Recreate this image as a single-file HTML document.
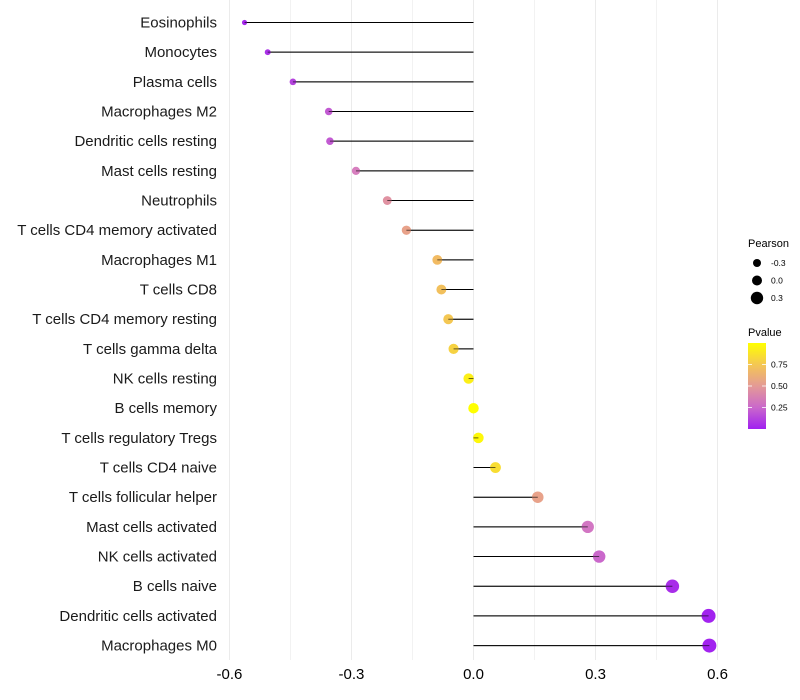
<!DOCTYPE html>
<html><head><meta charset="utf-8"><style>
body{margin:0;background:#fff;}
svg{display:block;font-family:"Liberation Sans",sans-serif;}
</style></head><body>
<svg id="chart" width="800" height="700">
<g id="grid"></g>
<g id="marks"></g>
<g id="ylabels"></g>
<g id="xlabels"></g>
<g id="legend"></g>
</svg>
<script>
const categories=["Eosinophils","Monocytes","Plasma cells","Macrophages M2","Dendritic cells resting","Mast cells resting","Neutrophils","T cells CD4 memory activated","Macrophages M1","T cells CD8","T cells CD4 memory resting","T cells gamma delta","NK cells resting","B cells memory","T cells regulatory  Tregs ","T cells CD4 naive","T cells follicular helper","Mast cells activated","NK cells activated","B cells naive","Dendritic cells activated","Macrophages M0"];
const pearson=[-0.563,-0.506,-0.444,-0.356,-0.353,-0.289,-0.212,-0.165,-0.089,-0.079,-0.062,-0.049,-0.012,0.0,0.012,0.054,0.158,0.281,0.309,0.489,0.578,0.580];
const pvalue=[0.03,0.06,0.12,0.2,0.2,0.33,0.45,0.55,0.7,0.72,0.75,0.8,0.93,1.0,0.97,0.85,0.55,0.3,0.25,0.05,0.01,0.01];
const xTicks=[-0.6,-0.3,0.0,0.3,0.6];
const xTickLabels=["-0.6","-0.3","0.0","0.3","0.6"];
const sizeLegend=[-0.3,0.0,0.3];
const colorTicks=[0.25,0.5,0.75];
const NS="http://www.w3.org/2000/svg";
const x=v=>473.5+v*406.7;
const y=i=>22.5+i*29.67;
const rad=v=>Math.sqrt(Math.max(2,27.5+37*v));
function lerp(a,b,t){return a.map((c,i)=>Math.round(c+(b[i]-c)*t));}
function col(p){const s=[[160,32,240],[216,128,190],[240,180,110],[255,255,0]];const t=Math.max(0,Math.min(1,p))*3;const i=Math.min(2,Math.floor(t));const c=lerp(s[i],s[i+1],t-i);return `rgb(${c})`;}
function el(tag,attrs,parent){const e=document.createElementNS(NS,tag);for(const k in attrs)e.setAttribute(k,attrs[k]);parent.appendChild(e);return e;}
const grid=document.getElementById('grid');
xTicks.forEach((t,i)=>{
 const l=el('line',{x1:x(t),x2:x(t),y1:0,y2:660,stroke:'#ebebeb','stroke-width':1},grid);
 
 
 if(i<xTicks.length-1){const m=(t+xTicks[i+1])/2;const l2=el('line',{x1:x(m),x2:x(m),y1:0,y2:660,stroke:'#f2f2f2','stroke-width':1},grid);
 
 }
 const tx=el('text',{x:x(t),y:679,'font-size':15,'text-anchor':'middle',fill:'#000'},document.getElementById('xlabels'));
 tx.textContent=xTickLabels[i];
 
 
});
const marks=document.getElementById('marks');
categories.forEach((c,i)=>{
 const ln=el('line',{x1:x(0),x2:x(pearson[i]),y1:y(i),y2:y(i),stroke:'#000','stroke-width':1},marks);
 
 
 const ci=el('circle',{cx:x(pearson[i]),cy:y(i),r:rad(pearson[i]),fill:col(pvalue[i])},marks);
 
 
 const ln2=el('line',{x1:x(0),x2:x(pearson[i]),y1:y(i),y2:y(i),stroke:'#000','stroke-width':1,'stroke-opacity':0.6},marks);
 
 
 const t=el('text',{x:217,y:y(i)+5,'font-size':15,'text-anchor':'end',fill:'#1a1a1a'},document.getElementById('ylabels'));
 t.textContent=c;
 
 
});
const lg=document.getElementById('legend');
const t1=el('text',{x:748,y:247,'font-size':11,fill:'#000'},lg);t1.textContent='Pearson';


sizeLegend.forEach((v,i)=>{
 const cy=263+i*17.5;
 const c=el('circle',{cx:757,cy:cy,r:[4,5,6.2][i],fill:'#000'},lg);
 
 
 const t=el('text',{x:771,y:cy+3,'font-size':8.5,fill:'#000'},lg);t.textContent=v.toFixed(1);
 
 
});
const t2=el('text',{x:748,y:336,'font-size':11,fill:'#000'},lg);t2.textContent='Pvalue';


const defs=el('defs',{},lg);
const gr=el('linearGradient',{id:'pg',x1:0,y1:1,x2:0,y2:0},defs);
[0,0.25,0.5,0.75,1].forEach(s=>el('stop',{offset:s,'stop-color':col(s)},gr));
const cb=el('rect',{x:748,y:343,width:18,height:86,fill:'url(#pg)'},lg);


colorTicks.forEach(v=>{
 const yy=429-v*86;
 el('line',{x1:748,x2:752,y1:yy,y2:yy,stroke:'#fff','stroke-width':0.8},lg);
 el('line',{x1:762,x2:766,y1:yy,y2:yy,stroke:'#fff','stroke-width':0.8},lg);
 const t=el('text',{x:771,y:yy+3,'font-size':8.5,fill:'#000'},lg);t.textContent=v.toFixed(2);
 
 
});
</script>
</body></html>
